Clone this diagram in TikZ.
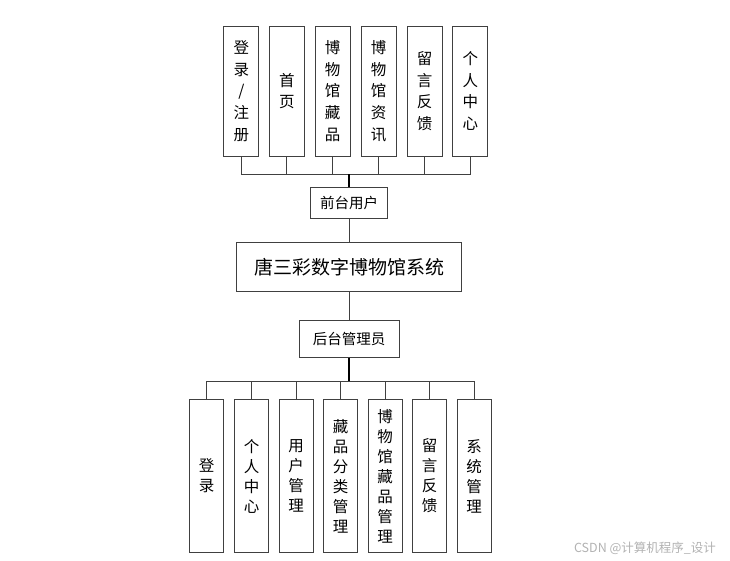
\documentclass[tikz,border=0pt]{standalone}
\usepackage{fontspec}
\newfontfamily\cjk{Noto Sans CJK SC}
\usepackage{xcolor}
\usepackage{tikz}
\usetikzlibrary{positioning}
\definecolor{edgegray}{RGB}{64,64,64}

\begin{document}
\begin{tikzpicture}[
  x=1pt,y=-1pt,
  colbox/.style={draw=edgegray,line width=0.9pt,fill=white,inner sep=0pt,
                 align=center,minimum width=35pt,
                 font=\cjk\fontsize{15.5}{21.7}\selectfont},
  topcol/.style={colbox,minimum height=130pt},
  botcol/.style={colbox,minimum width=34.4pt,minimum height=153.7pt,
                 font=\cjk\fontsize{15.5}{20}\selectfont},
  rolebox/.style={draw=edgegray,line width=0.9pt,fill=white,inner sep=0pt,
                  font=\cjk\fontsize{14.5}{16}\selectfont},
  conn/.style={draw=edgegray,line width=0.9pt}
]
\useasboundingbox (0,0) rectangle (730,561);

% front-end modules
\node[topcol] (t1) at (241.3,91) {登\\录\\/\\注\\册};
\node[topcol] (t2) at (286.8,91) {首\\页};
\node[topcol] (t3) at (332.6,91) {博\\物\\馆\\藏\\品};
\node[topcol] (t4) at (378.5,91) {博\\物\\馆\\资\\讯};
\node[topcol] (t5) at (424.5,91) {留\\言\\反\\馈};
\node[topcol] (t6) at (470.3,91) {个\\人\\中\\心};

\node[rolebox,minimum width=76.6pt,minimum height=31pt] (front) at (349,203.2) {前台用户};
\node[draw=edgegray,line width=0.9pt,fill=white,minimum width=225.3pt,
      minimum height=48.3pt,font=\cjk\fontsize{19}{20}\selectfont]
  (sys) at (349,267) {唐三彩数字博物馆系统};
\node[rolebox,minimum width=100pt,minimum height=37pt] (admin) at (349,338.8) {后台管理员};

% back-end modules
\node[botcol] (b1) at (206.5,476) {登\\录};
\node[botcol] (b2) at (251.5,476) {个\\人\\中\\心};
\node[botcol] (b3) at (296.2,476) {用\\户\\管\\理};
\node[botcol] (b4) at (340.5,476) {藏\\品\\分\\类\\管\\理};
\node[botcol] (b5) at (385.2,476) {博\\物\\馆\\藏\\品\\管\\理};
\node[botcol] (b6) at (429.5,476) {留\\言\\反\\馈};
\node[botcol] (b7) at (474.2,476) {系\\统\\管\\理};

\coordinate (topbus) at (349,174);
\coordinate (botbus) at (349,381);

\foreach \i in {1,...,6}
  \draw[conn] (t\i.south) |- (topbus);
\draw[conn,line width=1.6pt,draw=black] (front.north) -- (topbus);
\draw[conn] (front.south) -- (sys.north);
\draw[conn] (sys.south) -- (admin.north);
\draw[conn,line width=2pt,draw=black] (admin.south) -- (botbus);
\foreach \i in {1,...,7}
  \draw[conn] (botbus) -| (b\i.north);

\node[font=\cjk\fontsize{12.5}{14}\selectfont,text=gray!60] (mark) at (645,548) {CSDN @计算机程序\_设计};
\end{tikzpicture}
\end{document}
